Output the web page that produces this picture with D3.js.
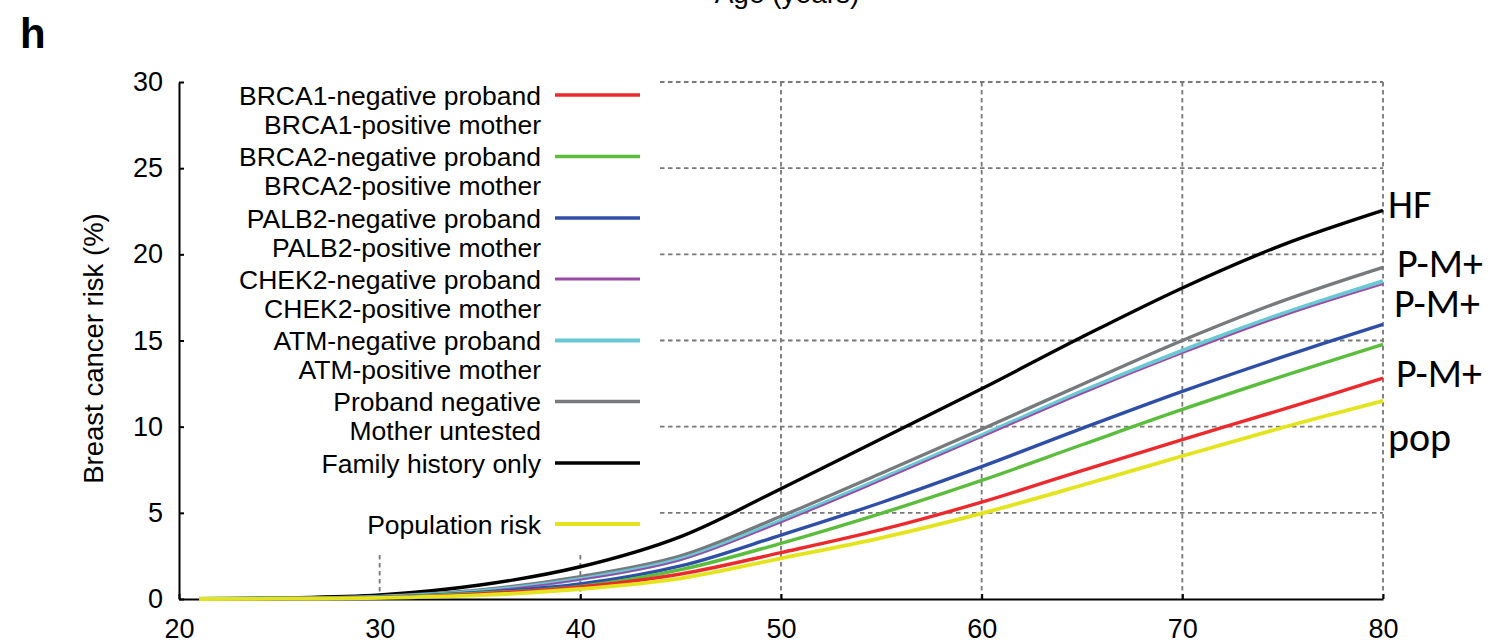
<!DOCTYPE html>
<html>
<head>
<meta charset="utf-8">
<script src="https://cdn.jsdelivr.net/npm/d3@7"></script>
<style>
  html, body { margin: 0; padding: 0; background: #fff; }
  svg { display: block; }
  text { font-family: "Liberation Sans", Arial, Helvetica, sans-serif; fill: #000; }
</style>
</head>
<body>
<svg id="chart" width="1494" height="644"></svg>
<script>
// Cumulative breast cancer risk (%) by age
const ages = [21, 25, 30, 35, 40, 45, 50, 55, 60, 65, 70, 75, 80];

const familyHistory   = [0.02, 0.06, 0.23, 0.81, 1.87, 3.62, 6.40, 9.30, 12.20, 15.20, 18.05, 20.55, 22.55];
const probandNegative = [0.01, 0.04, 0.15, 0.52, 1.30, 2.50, 4.80, 7.30, 9.85, 12.45, 15.00, 17.30, 19.25];
const atmRisk         = [0.01, 0.03, 0.12, 0.45, 1.16, 2.32, 4.55, 6.98, 9.50, 12.05, 14.42, 16.56, 18.45];
const chek2Risk       = [0.01, 0.03, 0.11, 0.43, 1.12, 2.26, 4.45, 6.88, 9.40, 11.92, 14.26, 16.42, 18.27];
const palb2Risk       = [0.01, 0.03, 0.10, 0.38, 0.87, 1.92, 3.71, 5.60, 7.68, 9.90, 12.05, 14.05, 15.94];
const brca2Risk       = [0.01, 0.03, 0.09, 0.33, 0.73, 1.70, 3.23, 4.97, 6.88, 8.95, 11.0, 12.93, 14.78];
const brca1Risk       = [0.01, 0.02, 0.08, 0.30, 0.70, 1.45, 2.69, 4.02, 5.62, 7.45, 9.25, 11.0, 12.81];
const populationRisk  = [0.00, 0.02, 0.06, 0.22, 0.58, 1.20, 2.36, 3.55, 4.97, 6.60, 8.30, 9.95, 11.50];

const xTicks = [20, 30, 40, 50, 60, 70, 80];
const yTicks = [0, 5, 10, 15, 20, 25, 30];
const hGrid = [5, 10, 15, 20, 25, 30];
const vGridFull = [50, 60, 70, 80];
const vGridShort = [30, 40];

const legendLabels = [
  ["BRCA1-negative proband", "BRCA1-positive mother"],
  ["BRCA2-negative proband", "BRCA2-positive mother"],
  ["PALB2-negative proband", "PALB2-positive mother"],
  ["CHEK2-negative proband", "CHEK2-positive mother"],
  ["ATM-negative proband", "ATM-positive mother"],
  ["Proband negative", "Mother untested"],
  ["Family history only"],
  ["Population risk"]
];
const legendColors = ["#ec2a2e", "#5bbd3c", "#2f4fa6", "#9a4aa6", "#68c8d4", "#767a7d", "#000000", "#e4e41e"];
const legendWidths = [3.5, 3.5, 3.5, 3, 4, 3.5, 3.5, 4];

const endLabels = ["HF", "P-M+", "P-M+", "P-M+", "pop"];

// drawing order: top curve first, population risk last
const series = [
  { values: familyHistory,   color: "#000000", width: 3.4 },
  { values: probandNegative, color: "#767a7d", width: 3.4 },
  { values: atmRisk,         color: "#68c8d4", width: 4 },
  { values: chek2Risk,       color: "#9a4aa6", width: 1.8 },
  { values: palb2Risk,       color: "#2f4fa6", width: 3.4 },
  { values: brca2Risk,       color: "#5bbd3c", width: 3.4 },
  { values: brca1Risk,       color: "#ec2a2e", width: 3.4 },
  { values: populationRisk,  color: "#e4e41e", width: 3.8 }
];

const svg = d3.select("#chart");
const x = d3.scaleLinear().domain([20, 80]).range([179, 1383]);
const y = d3.scaleLinear().domain([0, 30]).range([599, 82]);

// panel letter and the clipped axis title above
svg.append("text").attr("x", 20).attr("y", 48)
  .style("font-size", "42px").style("font-weight", "bold").text("h");
svg.append("text").attr("x", 787).attr("y", 3).attr("text-anchor", "middle")
  .style("font-size", "28px").text("Age (years)");

// dashed grid
const grid = svg.append("g").attr("stroke", "#777").attr("stroke-width", 1.8)
  .attr("stroke-dasharray", "4.5,3.5").attr("fill", "none");
grid.selectAll("line.h").data(hGrid).join("line").attr("class", "h")
  .attr("x1", 660).attr("x2", x(80)).attr("y1", d => y(d)).attr("y2", d => y(d));
grid.selectAll("line.vf").data(vGridFull).join("line").attr("class", "vf")
  .attr("x1", d => x(d)).attr("x2", d => x(d)).attr("y1", y(30)).attr("y2", y(0));
grid.selectAll("line.vs").data(vGridShort).join("line").attr("class", "vs")
  .attr("x1", d => x(d)).attr("x2", d => x(d)).attr("y1", 555).attr("y2", y(0));

// axes
const yAxis = d3.axisLeft(y).tickValues(yTicks).tickSizeInner(-5).tickSizeOuter(0).tickPadding(16);
const xAxis = d3.axisBottom(x).tickValues(xTicks).tickSizeInner(-5).tickSizeOuter(0).tickPadding(20);
const gy = svg.append("g").attr("transform", `translate(${x(20)},0)`).call(yAxis);
const gx = svg.append("g").attr("transform", `translate(0,${y(0)})`).call(xAxis);
[gy, gx].forEach(g => {
  g.select(".domain").attr("stroke", "#000").attr("stroke-width", 2);
  g.selectAll(".tick line").attr("stroke", "#000").attr("stroke-width", 2);
  g.selectAll(".tick text").style("font-size", "27px")
    .style("font-family", "'Liberation Sans', Arial, sans-serif").attr("fill", "#000");
});

svg.append("text")
  .attr("transform", `translate(103,${(y(0) + y(30)) / 2 + 8}) rotate(-90)`)
  .attr("text-anchor", "middle").style("font-size", "27.5px")
  .text("Breast cancer risk (%)");

// risk curves
const line = d3.line().x((d, i) => x(ages[i])).y(d => y(d)).curve(d3.curveCatmullRom.alpha(0.5));
svg.append("g").selectAll("path").data(series).join("path")
  .attr("d", d => line(d.values))
  .attr("fill", "none")
  .attr("stroke", d => d.color)
  .attr("stroke-width", d => d.width)
  .attr("stroke-linejoin", "round");

// legend
const legendRowY = [95, 156.5, 218, 279, 340.5, 401.5, 463, 524];
const lg = svg.append("g");
legendLabels.forEach((lines, i) => {
  const yy = legendRowY[i];
  lines.forEach((t, j) => {
    lg.append("text").attr("x", 541).attr("y", yy + 9.5 + j * 29)
      .attr("text-anchor", "end").style("font-size", "26.5px").text(t);
  });
  lg.append("line").attr("x1", 555).attr("x2", 640).attr("y1", yy).attr("y2", yy)
    .attr("stroke", legendColors[i]).attr("stroke-width", legendWidths[i]);
});

// curve annotations on the right
const endLabelPos = [[1388, 218], [1397, 277], [1394, 317], [1396, 387], [1388, 451]];
svg.append("g").selectAll("text").data(endLabels).join("text")
  .attr("x", (d, i) => endLabelPos[i][0]).attr("y", (d, i) => endLabelPos[i][1])
  .style("font-family", "Carlito, Lato, 'Open Sans', sans-serif")
  .style("font-size", "40px").text(d => d);
</script>
</body>
</html>
